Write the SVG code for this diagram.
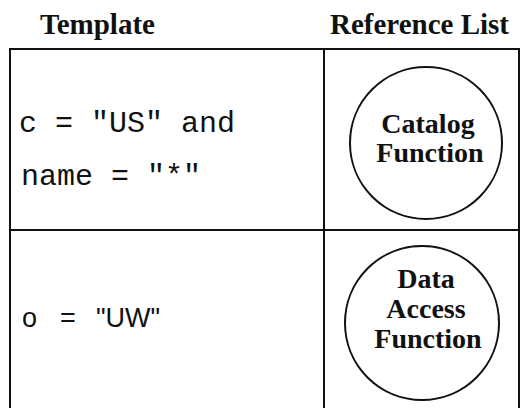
<svg xmlns="http://www.w3.org/2000/svg" width="525" height="408" viewBox="0 0 525 408">
  <style>
    .head { font-family: "Liberation Serif", "Times New Roman", serif; font-weight: bold; font-size: 29px; fill: #111; }
    .fn { font-family: "Liberation Serif", "Times New Roman", serif; font-weight: bold; font-size: 28px; fill: #111; text-anchor: middle; }
    .code { font-family: "Liberation Mono", "Courier New", monospace; font-size: 30px; fill: #111; }
    .code2 { font-family: "Liberation Sans", Arial, sans-serif; font-size: 27px; fill: #111; }
    .grid { fill: none; stroke: #111; stroke-width: 2; }
    .func { fill: #fff; stroke: #111; stroke-width: 2; }
  </style>
  <rect width="525" height="408" fill="#fff"/>

  <!-- column headings -->
  <text class="head" x="40" y="34">Template</text>
  <text class="head" x="330" y="34">Reference List</text>

  <!-- table frame and dividers -->
  <g id="table">
    <path class="grid" d="M10,420 V49 H519 V420"/>
    <line class="grid" x1="324" y1="49" x2="324" y2="420"/>
    <line class="grid" x1="10" y1="230" x2="519" y2="230"/>
  </g>

  <!-- row 1: template -->
  <g id="template-1">
    <text class="code" x="19" y="132" xml:space="preserve">c = "US" and</text>
    <text class="code" x="21" y="185" xml:space="preserve">name = "*"</text>
  </g>

  <!-- row 1: catalog function -->
  <g id="catalog-function">
    <circle class="func" cx="426" cy="143" r="76"/>
    <text class="fn" x="428" y="133">Catalog</text>
    <text class="fn" x="430" y="162">Function</text>
  </g>

  <!-- row 2: template -->
  <g id="template-2">
    <text class="code2" x="22" y="327">o</text>
    <text class="code2" x="60" y="327">=</text>
    <text class="code2" x="96" y="327">"UW"</text>
  </g>

  <!-- row 2: data access function -->
  <g id="data-access-function">
    <circle class="func" cx="422" cy="323" r="77"/>
    <text class="fn" x="426" y="288">Data</text>
    <text class="fn" x="426" y="318">Access</text>
    <text class="fn" x="428" y="348">Function</text>
  </g>
</svg>
